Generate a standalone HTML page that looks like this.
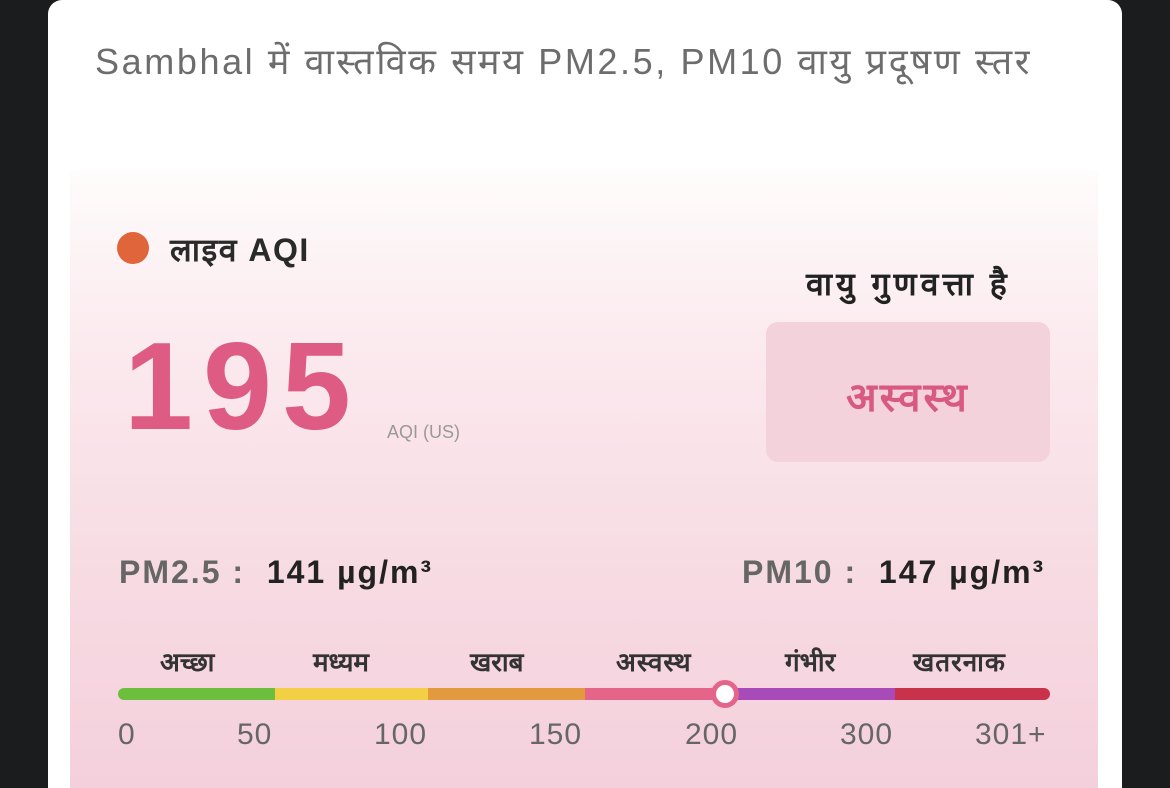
<!DOCTYPE html><html><head><meta charset="utf-8"><style>
body{margin:0;width:1170px;height:788px;background:#1b1c1e;position:relative;overflow:hidden;font-family:"Liberation Sans","Noto Sans CJK SC",sans-serif}
.card{position:absolute;left:48px;top:0;width:1074px;height:788px;background:#fff;border-radius:14px 14px 0 0}
.panel{position:absolute;left:70px;top:170px;width:1028px;height:618px;background:linear-gradient(#fefcfc 0%,#fbe9ee 30%,#f7dbe3 65%,#f4d0dc 100%)}
.t{position:absolute;white-space:nowrap}
</style></head><body>
<div class="card"></div>
<div class="panel"></div>
<div class="t" style="left:95px;top:36px;font-size:36px;color:#6d6d6d;letter-spacing:2.6px">Sambhal में वास्तविक समय PM2.5, PM10 वायु प्रदूषण स्तर</div>
<div style="position:absolute;left:117px;top:232px;width:32px;height:32px;border-radius:50%;background:#e0653a"></div>
<div class="t" style="left:170px;top:228px;font-size:32px;color:#2a2a2a;font-weight:bold;letter-spacing:1.5px">लाइव AQI</div>
<div class="t" style="left:124px;top:316px;font-size:124px;font-weight:bold;color:#de5b84;letter-spacing:10px">195</div>
<div class="t" style="left:387px;top:422px;font-size:18px;color:#999">AQI (US)</div>
<div class="t" style="left:806px;top:262px;font-size:32px;font-weight:bold;color:#222;letter-spacing:4px">वायु गुणवत्ता है</div>
<div style="position:absolute;left:766px;top:322px;width:284px;height:140px;border-radius:12px;background:#f3d2dc"></div>
<div class="t" style="left:766px;top:368px;width:284px;text-align:center;font-size:40px;font-weight:bold;color:#d85a80;letter-spacing:3px">अस्वस्थ</div>
<div class="t" style="left:119px;top:554px;font-size:32px;color:#666;font-weight:bold;letter-spacing:2px">PM2.5 : &nbsp;<span style="color:#222">141 µg/m³</span></div>
<div class="t" style="left:742px;top:554px;font-size:32px;color:#666;font-weight:bold;letter-spacing:2px">PM10 : &nbsp;<span style="color:#222">147 µg/m³</span></div>
<div class="t" style="left:160px;top:643px;font-size:26px;font-weight:bold;color:#333">अच्छा</div>
<div class="t" style="left:313px;top:643px;font-size:26px;font-weight:bold;color:#333">मध्यम</div>
<div class="t" style="left:470px;top:643px;font-size:26px;font-weight:bold;color:#333">खराब</div>
<div class="t" style="left:616px;top:643px;font-size:26px;font-weight:bold;color:#333;letter-spacing:1px">अस्वस्थ</div>
<div class="t" style="left:785px;top:643px;font-size:26px;font-weight:bold;color:#333">गंभीर</div>
<div class="t" style="left:913px;top:643px;font-size:26px;font-weight:bold;color:#333;letter-spacing:1px">खतरनाक</div>
<div style="position:absolute;left:118px;top:688px;width:932px;height:12px;border-radius:6px;overflow:hidden;display:flex">
<div style="width:157px;background:#6cbf3c"></div><div style="width:153px;background:#f2cf45"></div><div style="width:157px;background:#e39a3f"></div><div style="width:139px;background:#e5648a"></div><div style="width:171px;background:#a84ab8"></div><div style="flex:1;background:#c8324a"></div></div>
<div style="position:absolute;left:711px;top:680px;width:18px;height:18px;border-radius:50%;background:#fff;border:5px solid #e5648a"></div>
<div class="t" style="left:118px;top:718px;font-size:30px;color:#666">0</div>
<div class="t" style="left:237px;top:718px;font-size:30px;color:#666;letter-spacing:1px">50</div>
<div class="t" style="left:374px;top:718px;font-size:30px;color:#666;letter-spacing:1px">100</div>
<div class="t" style="left:529px;top:718px;font-size:30px;color:#666;letter-spacing:1px">150</div>
<div class="t" style="left:685px;top:718px;font-size:30px;color:#666;letter-spacing:1px">200</div>
<div class="t" style="left:840px;top:718px;font-size:30px;color:#666;letter-spacing:1px">300</div>
<div class="t" style="left:975px;top:718px;font-size:30px;color:#666;letter-spacing:1px">301+</div>
</body></html>
